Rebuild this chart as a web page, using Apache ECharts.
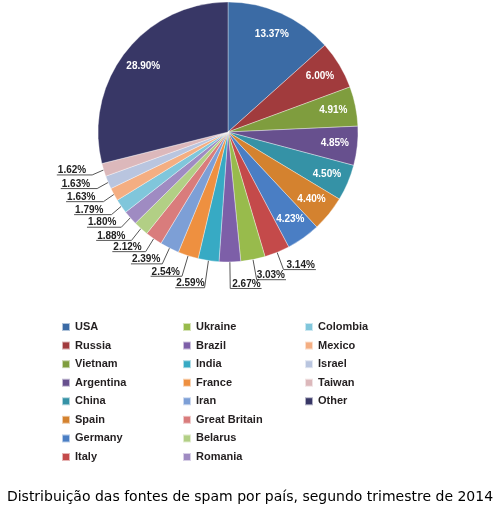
<!DOCTYPE html>
<html>
<head>
<meta charset="utf-8">
<script src="https://cdn.jsdelivr.net/npm/echarts@6/dist/echarts.min.js"></script>
<style>
  html, body { margin: 0; padding: 0; background: #fff; }
  #chart { width: 500px; height: 517px; }
</style>
</head>
<body>
<div id="chart"></div>
<script>
// data, clockwise from 12 o'clock
var countries = ["USA", "Russia", "Vietnam", "Argentina", "China", "Spain", "Germany", "Italy",
  "Ukraine", "Brazil", "India", "France", "Iran", "Great Britain", "Belarus", "Romania",
  "Colombia", "Mexico", "Israel", "Taiwan", "Other"];
var shares = [13.37, 6.00, 4.91, 4.85, 4.50, 4.40, 4.23, 3.14,
  3.03, 2.67, 2.59, 2.54, 2.39, 2.12, 1.88, 1.80,
  1.79, 1.63, 1.63, 1.62, 28.90];
var caption = "Distribuição das fontes de spam por país, segundo trimestre de 2014";

var palette = ["#3b6ba5", "#a13b3d", "#7f9d3e", "#67508e", "#3592a6", "#d4822f", "#4a7ec4", "#c44a4a",
  "#98bb4c", "#7d5fa8", "#37aac4", "#ee9040", "#7d9fd6", "#d97c7c", "#b2cf85", "#9f8bc2",
  "#80c6db", "#f4ae82", "#b9c5df", "#dcb8bb", "#383766"];

// leader line tweaks for the small slices (first segment / horizontal tail)
var leaderLen = { "Italy": 17, "Ukraine": 19, "Brazil": 25, "India": 26, "France": 20, "Iran": 16,
  "Great Britain": 14, "Belarus": 14 };
var leaderTail = { "Italy": 3, "Ukraine": 0, "Brazil": 2, "India": 0, "France": 2, "Iran": 2,
  "Great Britain": 4, "Romania": 5, "Colombia": 8, "Mexico": 8, "Israel": 7 };

var labelFont = "'Liberation Sans', Arial, sans-serif";
var cx = 228, cy = 132, R = 130;
var legendLeft = [61, 182, 304];

var myChart = echarts.init(document.getElementById("chart"));

var pieData = countries.map(function (name, i) {
  var inside = shares[i] >= 4;
  return {
    name: name,
    value: shares[i],
    itemStyle: { color: palette[i] },
    label: inside
      ? { position: "inside", color: "#fff" }
      : { position: "outside", color: "#222" },
    labelLine: {
      show: !inside,
      length: leaderLen[name] || 12,
      length2: leaderTail[name] != null ? leaderTail[name] : 6
    }
  };
});

var option = {
  animation: false,
  title: {
    text: caption,
    left: "center",
    top: 490,
    padding: 0,
    textStyle: { fontFamily: "'DejaVu Sans', sans-serif", fontSize: 14, fontWeight: "normal", color: "#000" }
  },
  legend: [0, 1, 2].map(function (c) {
    return {
      data: countries.slice(c * 8, c * 8 + 8),
      orient: "vertical",
      left: legendLeft[c],
      top: 321,
      padding: 0,
      icon: "rect",
      itemWidth: 8,
      itemHeight: 8,
      itemGap: 6.57,
      selectedMode: false,
      textStyle: { fontFamily: labelFont, fontWeight: "bold", fontSize: 11, lineHeight: 12, color: "#231f20" }
    };
  }),
  series: [
    {
      type: "pie",
      center: [cx, cy],
      radius: R,
      startAngle: 90,
      clockwise: true,
      avoidLabelOverlap: false,
      itemStyle: { borderColor: "rgba(255,255,255,0.6)", borderWidth: 0.6 },
      label: {
        formatter: function (p) { return p.value.toFixed(2) + "%"; },
        fontFamily: labelFont,
        fontWeight: "bold",
        fontSize: 10,
        distanceToLabelLine: 0
      },
      labelLine: { lineStyle: { color: "#555", width: 1 } },
      labelLayout: function (p) {
        var rect = p.labelRect;
        var lx = rect.x + rect.width / 2, ly = rect.y + rect.height / 2;
        if (shares[p.dataIndex] >= 4) {
          // push inside labels further out, towards the rim
          return { dx: (lx - cx) * 0.58, dy: (ly - cy) * 0.58 };
        }
        var pts = p.labelLinePoints;
        if (!pts) return {};
        var end = pts[pts.length - 1];
        var onRight = lx > end[0];
        var tail = onRight ? rect.x + rect.width + 1 : rect.x - 1;
        var y = end[1] + 1.5;
        // sit the text on top of the horizontal segment and run the line under it
        return {
          dy: y - 4.5 - ly,
          labelLinePoints: [pts[0], [pts[1][0], y], [tail, y]]
        };
      },
      data: pieData
    }
  ]
};

option && myChart.setOption(option);
</script>
</body>
</html>
